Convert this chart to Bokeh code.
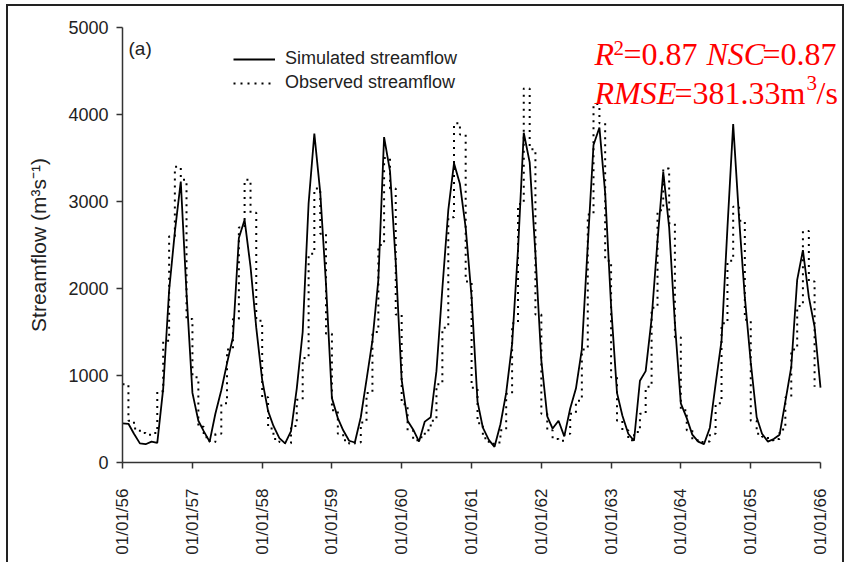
import pandas as pd
from math import pi
from bokeh.plotting import figure
from bokeh.models import (Range1d, FixedTicker, DatetimeTickFormatter, Legend,
                          LegendItem, Label)
from bokeh.embed import file_html
from bokeh.resources import INLINE

# ---------------- data ----------------
sim_dates = pd.date_range("1956-01-01", periods=121, freq="MS")
simulated = [450, 445, 330, 220, 210, 240, 225, 850, 1980, 2650, 3230, 1950,
             800, 480, 360, 240, 560, 830, 1140, 1440, 2580, 2790, 2250, 1550,
             950, 590, 420, 280, 220, 360, 850, 1500, 2980, 3780, 3100, 2050,
             740, 510, 370, 250, 230, 520, 950, 1400, 2100, 3740, 3350, 2300,
             950, 480, 380, 240, 470, 520, 1050, 2000, 2900, 3440, 3200, 2700,
             1900, 700, 400, 260, 180, 440, 800, 1360, 2450, 3790, 3450, 2400,
             1170, 530, 390, 480, 300, 620, 850, 1300, 2500, 3650, 3850, 3100,
             1800, 800, 540, 330, 250, 940, 1050, 1650, 2550, 3340, 2700, 1600,
             680, 510, 320, 240, 210, 400, 900, 1400, 2700, 3890, 2800, 1900,
             1150, 520, 330, 240, 270, 320, 700, 1100, 2100, 2440, 1900, 1560,
             860]

obs_dates = pd.date_range("1956-01-01", periods=120, freq="MS")
observed = [900, 480, 390, 340, 320, 340, 820, 1400, 2600, 3400, 3250, 1650,
            980, 410, 290, 235, 330, 680, 1300, 1650, 2700, 3250, 2870, 1630,
            750, 390, 270, 235, 220, 420, 720, 1200, 2400, 3150, 2630, 1480,
            600, 330, 255, 215, 230, 460, 800, 1500, 2500, 3500, 3150, 1700,
            670, 370, 255, 290, 370, 480, 900, 1550, 2820, 3900, 3770, 2080,
            860, 450, 280, 215, 230, 370, 790, 1600, 2970, 4300, 3600, 1700,
            560, 370, 270, 250, 330, 560, 710, 1300, 2850, 4120, 3900, 2320,
            980, 480, 370, 255, 350, 560, 870, 1780, 2900, 3380, 2750, 1440,
            600, 370, 255, 235, 240, 330, 680, 1600, 2320, 2940, 2780, 1640,
            480, 330, 295, 257, 270, 380, 750, 1300, 1800, 2660, 2080, 870]

tick_years = list(range(1956, 1967))
y_ticks = [0, 1000, 2000, 3000, 4000, 5000]
legend_labels = ["Simulated streamflow", "Observed streamflow"]

# ---------------- figure ----------------
tick_dates = [pd.Timestamp(f"{y}-01-01") for y in tick_years]
tick_ms = [t.value / 1e6 for t in tick_dates]

AXIS_PX = 698      # pixel length of the 1956-1966 axis
FRAME_W = 718      # frame is wider so the red annotation is not clipped
x_end = tick_ms[0] + (tick_ms[-1] - tick_ms[0]) * FRAME_W / AXIS_PX

p = figure(x_axis_type="datetime",
           frame_width=FRAME_W, frame_height=435,
           min_border_left=114, min_border_right=2,
           min_border_top=21, min_border_bottom=100,
           x_range=Range1d(tick_ms[0], x_end),
           y_range=Range1d(0, 5000),
           output_backend="svg", toolbar_location=None)
p.styles = {"margin-left": "6px", "margin-top": "4px",
            "border-top": "2px solid #222", "border-left": "2px solid #222",
            "border-right": "2px solid #222"}
p.background_fill_color = "white"
p.border_fill_color = "white"
p.outline_line_color = None
p.xgrid.visible = False
p.ygrid.visible = False

r_sim = p.line(sim_dates, simulated, line_color="black", line_width=1.8)
r_obs = p.step(obs_dates, observed, mode="after", line_color="black",
               line_width=2, line_dash="2 5")

fmt = "%m/%d/%y"
p.xaxis.ticker = FixedTicker(ticks=tick_ms)
p.xaxis.bounds = (tick_ms[0], tick_ms[-1])
p.xaxis.formatter = DatetimeTickFormatter(
    microseconds=fmt, milliseconds=fmt, seconds=fmt, minsec=fmt, minutes=fmt,
    hourmin=fmt, hours=fmt, days=fmt, months=fmt, years=fmt)
p.xaxis.major_label_orientation = pi / 2
p.xaxis.major_label_standoff = 20
p.xaxis.major_label_text_font_size = "17px"

p.yaxis.ticker = FixedTicker(ticks=y_ticks)
p.yaxis.major_label_standoff = 8
p.yaxis.major_label_text_font_size = "18px"
p.yaxis.axis_label = "Streamflow (m³s⁻¹)"
p.yaxis.axis_label_text_font = "Liberation Sans"
p.yaxis.axis_label_text_font_style = "normal"
p.yaxis.axis_label_text_font_size = "21px"
p.yaxis.axis_label_text_color = "#222"
p.yaxis.axis_label_standoff = 15

for ax in (p.xaxis, p.yaxis):
    ax.major_label_text_font = "Liberation Sans"
    ax.major_label_text_color = "#222"
    ax.major_tick_in = 0
    ax.major_tick_out = 6
    ax.minor_tick_line_color = None
    ax.axis_line_width = 1.5
    ax.axis_line_color = "#333"
    ax.major_tick_line_width = 1.5
    ax.major_tick_line_color = "#333"

legend = Legend(items=[LegendItem(label=legend_labels[0], renderers=[r_sim]),
                       LegendItem(label=legend_labels[1], renderers=[r_obs])],
                location=(111, 369), orientation="vertical",
                glyph_width=42, glyph_height=20, label_height=20,
                label_standoff=10, spacing=3, padding=0, margin=0,
                border_line_color=None, background_fill_alpha=0,
                label_text_font="Liberation Sans", label_text_font_size="18px",
                label_text_color="#222")
p.add_layout(legend)

p.add_layout(Label(x=6, y=414, x_units="screen", y_units="screen", text="(a)",
                   text_font="Liberation Sans", text_font_size="19px",
                   text_color="#222", text_baseline="middle"))

red = "#ff0000"
serif = "Liberation Serif"
pieces = [
    (472, 409, "R", "italic", "32px"),
    (491, 415, "2", "normal", "21px"),
    (501, 409, "=0.87", "normal", "32px"),
    (584, 409, "NSC", "italic", "32px"),
    (640, 409, "=0.87", "normal", "32px"),
    (472, 370, "RMSE", "italic", "32px"),
    (552, 370, "=381.33m", "normal", "32px"),
    (684, 380, "3", "normal", "21px"),
    (694, 370, "/s", "normal", "32px"),
]
for x, y, t, st, sz in pieces:
    p.add_layout(Label(x=x, y=y, x_units="screen", y_units="screen", text=t,
                       text_font=serif, text_font_style=st, text_font_size=sz,
                       text_color=red, text_baseline="alphabetic"))

open("out.html", "w").write(file_html(p, INLINE))
